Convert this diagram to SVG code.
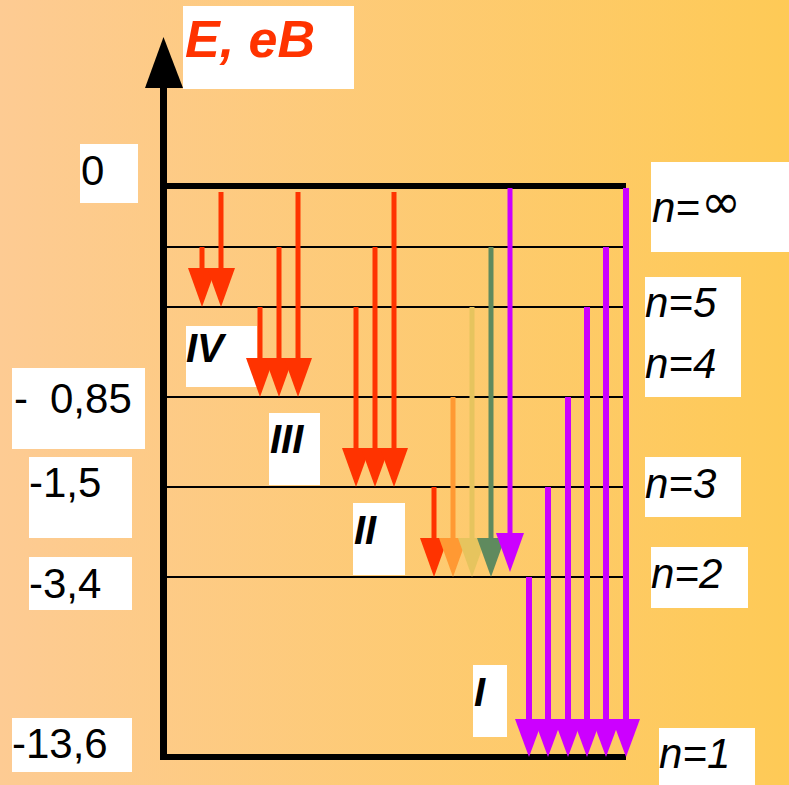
<svg xmlns="http://www.w3.org/2000/svg" width="789" height="785" viewBox="0 0 789 785">
<defs>
<linearGradient id="bg" x1="0" y1="0" x2="1" y2="0">
<stop offset="0" stop-color="#FDCB93"/>
<stop offset="1" stop-color="#FECA56"/>
</linearGradient>
</defs>
<style>
.box{fill:#FFFFFF}
.num{font-family:"Liberation Sans",Arial,sans-serif;font-size:42px;fill:#000}
.nlab{font-family:"Liberation Sans",Arial,sans-serif;font-size:42px;font-style:italic;fill:#000}
.rom{font-family:"Liberation Sans",Arial,sans-serif;font-size:40px;font-style:italic;font-weight:bold;fill:#000}
.title{font-family:"Liberation Sans",Arial,sans-serif;font-size:52px;font-style:italic;font-weight:bold;fill:#FF3300}
.lvl{stroke:#000;stroke-width:2}
.red{fill:#FF3300}
.org{fill:#FF9933}
.yel{fill:#E6C45E}
.grn{fill:#5F8A5E}
.pur{fill:#CC00FF}
</style>
<rect x="0" y="0" width="789" height="785" fill="url(#bg)"/>

<g id="levels">
<line class="lvl" x1="166" y1="247" x2="626" y2="247"/>
<line class="lvl" x1="166" y1="307" x2="626" y2="307"/>
<line class="lvl" x1="166" y1="397" x2="626" y2="397"/>
<line class="lvl" x1="166" y1="487" x2="626" y2="487"/>
<line class="lvl" x1="166" y1="577" x2="626" y2="577"/>
<rect x="166" y="183" width="460" height="6" fill="#000"/>
<rect x="160" y="754" width="466" height="6" fill="#000"/>
</g>

<g id="axis">
<rect x="160" y="86" width="7" height="674" fill="#000"/>
<polygon points="145,88 183,88 163.5,37" fill="#000"/>
</g>

<g id="title"><rect class="box" x="183" y="6" width="171" height="83"/><text class="title" x="185" y="57">E, eB</text></g>

<g id="e0"><rect class="box" x="80" y="144" width="58" height="59"/><text class="num" x="81" y="185">0</text></g>
<g id="e085"><rect class="box" x="12" y="368" width="133" height="81"/><text class="num" y="413"><tspan x="14">-</tspan><tspan x="50">0,85</tspan></text></g>
<g id="e15"><rect class="box" x="29" y="457" width="103" height="81"/><text class="num" x="29" y="497">-1,5</text></g>
<g id="e34"><rect class="box" x="29" y="557" width="103" height="53"/><text class="num" x="29" y="598">-3,4</text></g>
<g id="e136"><rect class="box" x="12" y="718" width="120" height="54"/><text class="num" x="12" y="758">-13,6</text></g>

<g id="ninf"><rect class="box" x="651" y="162" width="138" height="90"/><text class="nlab" x="652" y="222">n=</text><text x="701" y="218" font-family="'DejaVu Sans',sans-serif" font-size="48px" fill="#000">∞</text></g>
<g id="n54"><rect class="box" x="645" y="277" width="96" height="120"/><text class="nlab" x="645" y="317">n=5</text><text class="nlab" x="645" y="378">n=4</text></g>
<g id="n3"><rect class="box" x="645" y="457" width="96" height="60"/><text class="nlab" x="645" y="498">n=3</text></g>
<g id="n2"><rect class="box" x="651" y="547" width="97" height="61"/><text class="nlab" x="651" y="588">n=2</text></g>
<g id="n1"><rect class="box" x="659" y="728" width="96" height="57"/><text class="nlab" x="659" y="768">n=1</text></g>

<g id="rIV"><rect class="box" x="186" y="326" width="71" height="61"/><text class="rom" x="186" y="362">IV</text></g>
<g id="rIII"><rect class="box" x="269" y="413" width="51" height="72"/><text class="rom" x="270" y="453">III</text></g>
<g id="rII"><rect class="box" x="353" y="503" width="52" height="72"/><text class="rom" x="354" y="544">II</text></g>
<g id="rI"><rect class="box" x="473" y="665" width="34" height="72"/><text class="rom" x="474" y="706">I</text></g>

<g id="connectors">
<g class="red">
<rect x="199.5" y="247" width="5" height="22"/><polygon points="188,268 216,268 202,307"/>
<rect x="218.5" y="192" width="5" height="77"/><polygon points="207,268 235,268 221,307"/>
</g>
<g class="red">
<rect x="257.5" y="307" width="5" height="52"/><polygon points="246,358 274,358 260,397"/>
<rect x="276.5" y="247" width="5" height="112"/><polygon points="265,358 293,358 279,397"/>
<rect x="295.5" y="192" width="5" height="167"/><polygon points="284,358 312,358 298,397"/>
</g>
<g class="red">
<rect x="353.5" y="307" width="5" height="142"/><polygon points="342,448 370,448 356,487"/>
<rect x="372.5" y="247" width="5" height="202"/><polygon points="361,448 389,448 375,487"/>
<rect x="391.5" y="192" width="5" height="257"/><polygon points="380,448 408,448 394,487"/>
</g>
<g class="red"><rect x="431.5" y="487" width="5" height="52"/><polygon points="420,538 448,538 434,577"/></g>
<g class="org"><rect x="450.5" y="397" width="5" height="142"/><polygon points="439,538 467,538 453,577"/></g>
<g class="yel"><rect x="469.5" y="307" width="5" height="232"/><polygon points="458,538 486,538 472,577"/></g>
<g class="grn"><rect x="488.5" y="247" width="5" height="292"/><polygon points="477,538 505,538 491,577"/></g>
<g class="pur"><rect x="507.5" y="188" width="5" height="346"/><polygon points="496,533 524,533 510,572"/></g>
<g class="pur">
<rect x="526" y="577" width="6" height="143"/><polygon points="515,719 543,719 529,757"/>
<rect x="545" y="487" width="6" height="233"/><polygon points="534,719 562,719 548,757"/>
<rect x="565" y="397" width="6" height="323"/><polygon points="554,719 582,719 568,757"/>
<rect x="584" y="307" width="6" height="413"/><polygon points="573,719 601,719 587,757"/>
<rect x="603" y="247" width="6" height="473"/><polygon points="592,719 620,719 606,757"/>
<rect x="623" y="188" width="6" height="532"/><polygon points="612,719 640,719 626,757"/>
</g>
</g>
</svg>
